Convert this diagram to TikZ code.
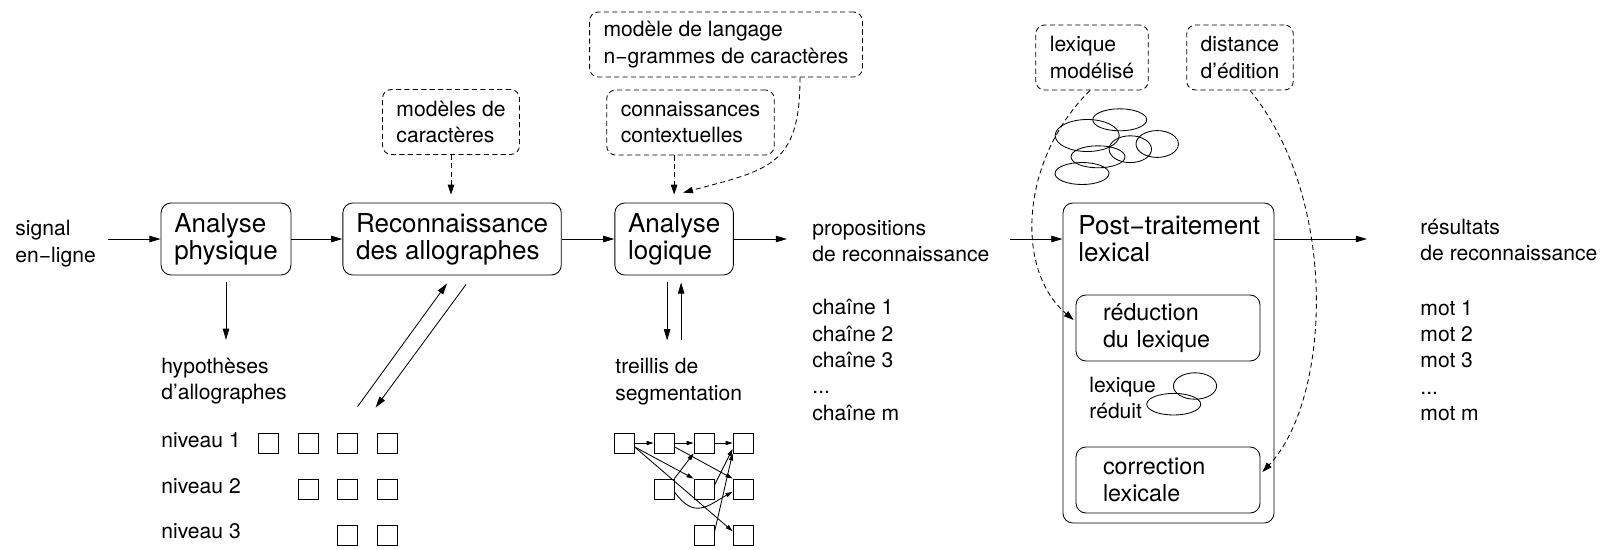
\documentclass[tikz,border=0pt]{standalone}
\usepackage{fontspec}
\setmainfont{TeX Gyre Heros}
\usetikzlibrary{arrows.meta,calc}

\tikzset{
  txt/.style = {font=\fontsize{15}{18.7}\selectfont, align=left, inner sep=0pt},
  titletxt/.style = {font=\fontsize{18.5}{19.2}\selectfont, align=left, inner sep=0pt},
  blockbox/.style = {draw, rounded corners=0.25cm, font=\fontsize{18.5}{19.2}\selectfont,
    align=left, inner xsep=0.33cm, minimum height=1.8cm},
  subbox/.style = {draw, rounded corners=0.25cm, font=\fontsize{16.6}{19.2}\selectfont,
    align=left, text width=3.25cm, inner xsep=0.675cm, minimum height=1.65cm},
  knowbox/.style = {draw, dash pattern=on 3.6pt off 2.4pt, rounded corners=0.22cm,
    font=\fontsize{15}{18.7}\selectfont, align=left, inner xsep=0.35cm, minimum height=1.625cm},
  cell/.style = {draw, minimum size=0.5cm, inner sep=0pt},
  arr/.style = {-{Triangle[length=8pt,width=4.6pt]}},
  smallarr/.style = {-{Triangle[length=5pt,width=3pt]}},
  dasharr/.style = {dash pattern=on 3.6pt off 2.4pt, -{Triangle[length=7pt,width=4.6pt]}},
}

\begin{document}
\begin{tikzpicture}[x=0.025cm, y=-0.025cm, line width=0.6pt]
    \useasboundingbox (0,0) rectangle (1602,549);

    % main chain
    \node [txt, anchor=west] (signal) at (15,243.5) {signal\\en−ligne};
    \node [blockbox] (phys) at (226,239) {Analyse\\physique};
    \node [blockbox, right of = phys, node distance = 5.65cm] (reco) {Reconnaissance\\des allographes};
    \node [blockbox, right of = reco, node distance = 5.55cm] (logique) {Analyse\\logique};
    \node [txt, anchor=west] (props) at (812,241.5) {propositions\\de reconnaissance};
    \node [txt, anchor=west] (chaines) at (812,360) {chaîne 1\\chaîne 2\\chaîne 3\\...\\chaîne m};

    \draw [arr, shorten <=0.3cm] (signal.east |- phys) -- (phys);
    \draw [arr] (phys) -- (reco);
    \draw [arr] (reco) -- (logique);
    \draw [arr, shorten >=0.625cm] (logique) -- (logique -| props.west);

    % knowledge sources
    \node [knowbox] (modeles) at (451,122) {modèles de\\caractères};
    \node [knowbox] (connais) at (690.5,122.5) {connaissances\\contextuelles};
    \node [knowbox] (langage) at (726,44.5) {modèle de langage\\n−grammes de caractères};
    \node [knowbox] (lexmod) at (1092,57.5) {lexique\\modélisé};
    \node [knowbox] (dist) at (1240,57.5) {distance\\d’édition};

    \draw [dasharr, shorten >=0.2cm] (modeles) -- (modeles.south |- reco.north);
    \draw [dasharr, shorten >=0.2cm] (logique.north |- connais.south) -- (logique.north);
    \draw [dasharr] ($(langage.south)+(74,0)$) .. controls +(0,88) and +(87,-23) .. ($(logique.north)+(9,-10)$);

    % allograph hypotheses
    \node [txt, anchor=west] (hyp) at (161,381) {hypothèses\\d’allographes};
    \node [txt, anchor=base west] (niv1) at (161,447) {niveau 1};
    \node [txt, anchor=base west] (niv2) at (161,493) {niveau 2};
    \node [txt, anchor=base west] (niv3) at (161,538) {niveau 3};
    \node [cell] (n11) at (268.5,443) {};
    \node [cell] (n12) at (308,443) {};
    \node [cell] (n13) at (347.5,443) {};
    \node [cell] (n14) at (387,443) {};
    \node [cell] (n22) at (308,489) {};
    \node [cell] (n23) at (347.5,489) {};
    \node [cell] (n24) at (387,489) {};
    \node [cell] (n33) at (347.5,535) {};
    \node [cell] (n34) at (387,535) {};

    \draw [arr, shorten <=0.175cm, shorten >=0.44cm] (phys.south) -- (phys.south |- hyp.north);
    \draw [arr] ($(n14.north west)+(-19,-26)$) -- ($(reco.south)+(-5,8)$);
    \draw [arr] ($(reco.south)+(14,9)$) -- ($(n14.north west)+(-1,-25)$);

    % segmentation lattice
    \node [txt, anchor=west] (treillis) at (615,381.5) {treillis de\\segmentation};
    \node [cell] (l11) at (624,443) {};
    \node [cell] (l12) at (664,443) {};
    \node [cell] (l13) at (704,443) {};
    \node [cell] (l14) at (743,443) {};
    \node [cell] (l22) at (664,489) {};
    \node [cell] (l23) at (704,489) {};
    \node [cell] (l24) at (743,489) {};
    \node [cell] (l33) at (704,535) {};
    \node [cell] (l34) at (743,535) {};

    \draw [arr] ($(logique.south)+(-7,7)$) -- ($(logique.south)+(-7,65)$);
    \draw [arr] ($(logique.south)+(7,65)$) -- ($(logique.south)+(7,7)$);

    \draw [smallarr] (l11) -- (l12);
    \draw [smallarr] (l12) -- (l13);
    \draw [smallarr] (l13) -- (l14);
    \draw [smallarr] (l11.-20) -- (l23.north west);
    \draw [smallarr] (l11.-20) -- (l34.160);
    \draw [smallarr] (l12.-20) -- (l24.north west);
    \draw [smallarr] (l22.north east) -- (l13.south west);
    \draw [smallarr] (l22.-15) .. controls +(20,28) and +(-25,14) .. (l24.-165);
    \draw [smallarr] (l23.20) -- (l14.-150);
    \draw [smallarr] (l33.15) -- (l14.south west);

    % lexical post-processing
    \node [draw, rounded corners=0.25cm, minimum width=5.275cm, minimum height=8cm] (post) at (1168.5,363) {};
    \node [titletxt, anchor=west] (posttitle) at (1078,239) {Post−traitement\\lexical};
    \node [subbox] (reduc) at (1168,328) {réduction\\du lexique};
    \node [txt, anchor=west] (lexred) at (1089,398) {lexique\\réduit};
    \node [subbox] (correc) at (1168,480) {correction\\lexicale};
    \node [txt, anchor=west] (results) at (1420,240) {résultats\\de reconnaissance};
    \node [txt, anchor=west] (mots) at (1420,360.5) {mot 1\\mot 2\\mot 3\\...\\mot m};

    \draw [arr, shorten <=0.5cm] (props.east |- posttitle) -- (posttitle -| post.west);
    \draw [arr, shorten >=1.325cm] (posttitle -| post.east) -- (posttitle -| results.west);

    % lexicon pictures
    \draw (1119.7,119.8) ellipse [x radius=0.675cm, y radius=0.275cm];
    \draw (1087.2,135.5) ellipse [x radius=0.8cm, y radius=0.4cm];
    \draw (1130.3,149.2) ellipse [x radius=0.53cm, y radius=0.335cm];
    \draw (1157.2,144) ellipse [x radius=0.53cm, y radius=0.335cm];
    \draw (1098,156.8) ellipse [x radius=0.675cm, y radius=0.275cm];
    \draw (1082,173.5) ellipse [x radius=0.675cm, y radius=0.275cm];
    \draw (1195,386) ellipse [x radius=0.54cm, y radius=0.33cm];
    \draw (1173.7,404.2) ellipse [x radius=0.675cm, y radius=0.27cm];

    \draw [dasharr] ($(lexmod.south)+(-2,0)$) .. controls +(-70,69) and +(-59,-50) .. ($(reduc.west)+(-2,-8)$);
    \draw [dasharr] ($(dist.south)+(10,0)$) .. controls +(90,110) and +(68,-72) .. ($(correc.east)+(2,-8)$);
\end{tikzpicture}
\end{document}
